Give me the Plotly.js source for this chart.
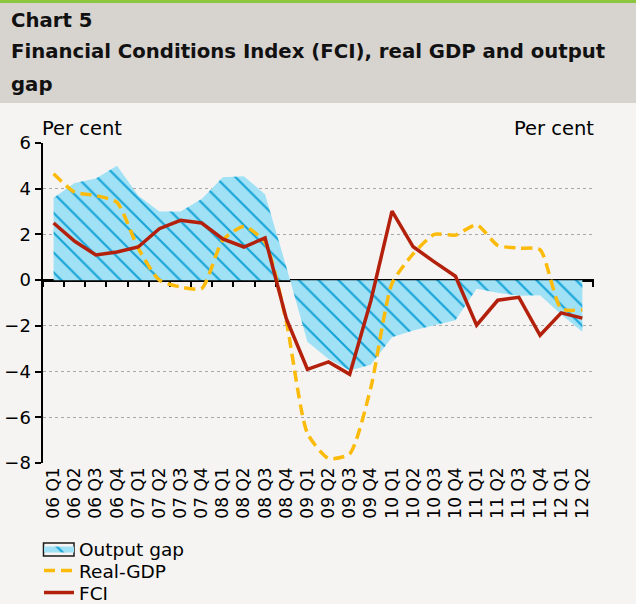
<!DOCTYPE html>
<html>
<head>
<meta charset="utf-8">
<script src="https://cdn.plot.ly/plotly-3.0.1.min.js"></script>
<style>
  html, body { margin: 0; padding: 0; background: #f5f4f2; }
  #chart { width: 636px; height: 604px; }
</style>
</head>
<body>
<div id="chart"></div>
<script>
// ---- Data ----
const categories = [
  "06 Q1","06 Q2","06 Q3","06 Q4",
  "07 Q1","07 Q2","07 Q3","07 Q4",
  "08 Q1","08 Q2","08 Q3","08 Q4",
  "09 Q1","09 Q2","09 Q3","09 Q4",
  "10 Q1","10 Q2","10 Q3","10 Q4",
  "11 Q1","11 Q2","11 Q3","11 Q4",
  "12 Q1","12 Q2"
];
const outputGap = [
  3.6, 4.25, 4.45, 5.0,
  3.7, 3.0, 3.0, 3.55,
  4.5, 4.55, 3.75, 0.6,
  -2.7, -3.45, -3.95, -3.7,
  -2.5, -2.2, -1.97, -1.75,
  -0.38, -0.55, -0.68, -0.66,
  -1.5, -2.26
];
const realGDP = [
  4.65, 3.85, 3.7, 3.4,
  1.4, 0.0, -0.3, -0.37,
  1.75, 2.35, 1.65, -1.8,
  -6.7, -7.8, -7.6, -4.7,
  -0.15, 1.15, 2.0, 1.97,
  2.42, 1.52, 1.4, 1.33,
  -1.25, -1.3
];
const fci = [
  2.5, 1.7, 1.1, 1.23,
  1.45, 2.25, 2.62, 2.5,
  1.8, 1.45, 1.85, -1.68,
  -3.9, -3.58, -4.12, -0.9,
  3.02, 1.46, 0.8, 0.17,
  -1.97, -0.88, -0.75, -2.41,
  -1.43, -1.66
];
const yTicks = [-8, -6, -4, -2, 0, 2, 4, 6];
const seriesNames = ["Output gap", "Real-GDP", "FCI"];
const titleLine1 = "Chart 5";
const titleLine2 = "Financial Conditions Index (FCI), real GDP and output";
const titleLine3 = "gap";
const unitLabel = "Per cent";

// ---- Layout constants ----
const W = 636, H = 604;
const M = { l: 43, r: 42, t: 143, b: 141, autoexpand: false };
const PW = W - M.l - M.r, PH = H - M.t - M.b;
const px2x = x => (x - M.l) / PW;
const py2y = y => (H - M.b - y) / PH;
const FONT = "DejaVu Sans";
const xRange = [-0.5, categories.length - 0.45];

const traces = [
  {
    type: "scatter", mode: "lines", name: seriesNames[0],
    x: categories, y: outputGap, xaxis: "x", yaxis: "y", legend: "legend",
    fill: "tozeroy",
    fillcolor: "#a0e1f5",
    fillpattern: { shape: "\\", bgcolor: "#a0e1f5", fgcolor: "#14a3d8", size: 14, solidity: 0.15 },
    line: { width: 0, color: "#a0e1f5" },
    hoverinfo: "skip"
  },
  {
    type: "scatter", mode: "lines", name: seriesNames[1],
    x: categories, y: realGDP, xaxis: "x2", yaxis: "y", legend: "legend2",
    line: { color: "#fcbb0a", width: 3.5, dash: "11px,6px", shape: "spline", smoothing: 0.6 }
  },
  {
    type: "scatter", mode: "lines", name: seriesNames[2],
    x: categories, y: fci, xaxis: "x2", yaxis: "y", legend: "legend3",
    line: { color: "#b3200c", width: 3.5 }
  }
];

function legendAt(yPx) {
  return {
    x: px2x(39), y: py2y(yPx), xanchor: "left", yanchor: "middle",
    bgcolor: "rgba(0,0,0,0)", font: { family: FONT, size: 18.5, color: "#000" },
    itemwidth: 30, borderwidth: 0
  };
}

const layout = {
  width: W, height: H,
  margin: M,
  paper_bgcolor: "#f5f4f2",
  plot_bgcolor: "#f5f4f2",
  font: { family: FONT, color: "#000", size: 17 },
  showlegend: true,
  legend: legendAt(549),
  legend2: legendAt(571),
  legend3: legendAt(593),
  xaxis: {
    type: "category", range: xRange,
    tickangle: -90, ticks: "", showline: false, showgrid: false, zeroline: false,
    tickfont: { family: FONT, size: 17 }, fixedrange: true, automargin: false
  },
  xaxis2: {
    overlaying: "x", anchor: "free", position: 8 / 14, type: "category",
    range: xRange, showline: true, linecolor: "#000", linewidth: 2.5,
    ticks: "outside", tickson: "boundaries", ticklen: 5, tickwidth: 2, tickcolor: "#000",
    showticklabels: false, showgrid: false, zeroline: false, layer: "below traces",
    fixedrange: true, automargin: false
  },
  yaxis: {
    range: [-8, 6], tickmode: "array", tickvals: yTicks,
    showline: true, linecolor: "#000", linewidth: 2.5, mirror: false,
    ticks: "outside", ticklen: 6, tickwidth: 2, tickcolor: "#000",
    showgrid: true, gridcolor: "#a8a8a8", gridwidth: 1, griddash: "dot",
    zeroline: false, tickfont: { family: FONT, size: 18 }, fixedrange: true, automargin: false
  },
  yaxis2: {
    overlaying: "y", side: "right", range: [-8, 6], tickmode: "array", tickvals: yTicks,
    showline: true, linecolor: "#000", linewidth: 2.5,
    ticks: "outside", ticklen: 6, tickwidth: 2, tickcolor: "#000",
    showgrid: false, zeroline: false, tickfont: { family: FONT, size: 18 }, fixedrange: true, automargin: false
  },
  shapes: [
    { type: "rect", xref: "paper", yref: "paper", x0: px2x(0), x1: px2x(W), y0: py2y(103), y1: py2y(3),
      fillcolor: "#d7d3cf", line: { width: 0 }, layer: "below" },
    { type: "rect", xref: "paper", yref: "paper", x0: px2x(0), x1: px2x(W), y0: py2y(3), y1: py2y(0),
      fillcolor: "#8cc63f", line: { width: 0 }, layer: "below" },
    // outline around the output-gap legend swatch
    { type: "rect", xref: "paper", yref: "paper", x0: px2x(43.5), x1: px2x(74), y0: py2y(556), y1: py2y(543),
      fillcolor: "rgba(0,0,0,0)", line: { width: 1.5, color: "#1a1a1a" }, layer: "above" }
  ],
  annotations: [
    { text: "<b>" + titleLine1 + "</b>", xref: "paper", yref: "paper", x: px2x(9), y: py2y(20),
      xanchor: "left", yanchor: "middle", showarrow: false, font: { family: FONT, size: 19.7, color: "#111" } },
    { text: "<b>" + titleLine2 + "</b>", xref: "paper", yref: "paper", x: px2x(9), y: py2y(52),
      xanchor: "left", yanchor: "middle", showarrow: false, font: { family: FONT, size: 19.7, color: "#111" } },
    { text: "<b>" + titleLine3 + "</b>", xref: "paper", yref: "paper", x: px2x(9), y: py2y(84),
      xanchor: "left", yanchor: "middle", showarrow: false, font: { family: FONT, size: 19.7, color: "#111" } },
    { text: unitLabel, xref: "paper", yref: "paper", x: px2x(40), y: py2y(128),
      xanchor: "left", yanchor: "middle", showarrow: false, font: { family: FONT, size: 19.5 } },
    { text: unitLabel, xref: "paper", yref: "paper", x: px2x(596), y: py2y(128),
      xanchor: "right", yanchor: "middle", showarrow: false, font: { family: FONT, size: 19.5 } }
  ]
};

Plotly.newPlot("chart", traces, layout, { displayModeBar: false, staticPlot: true });
</script>
</body>
</html>
